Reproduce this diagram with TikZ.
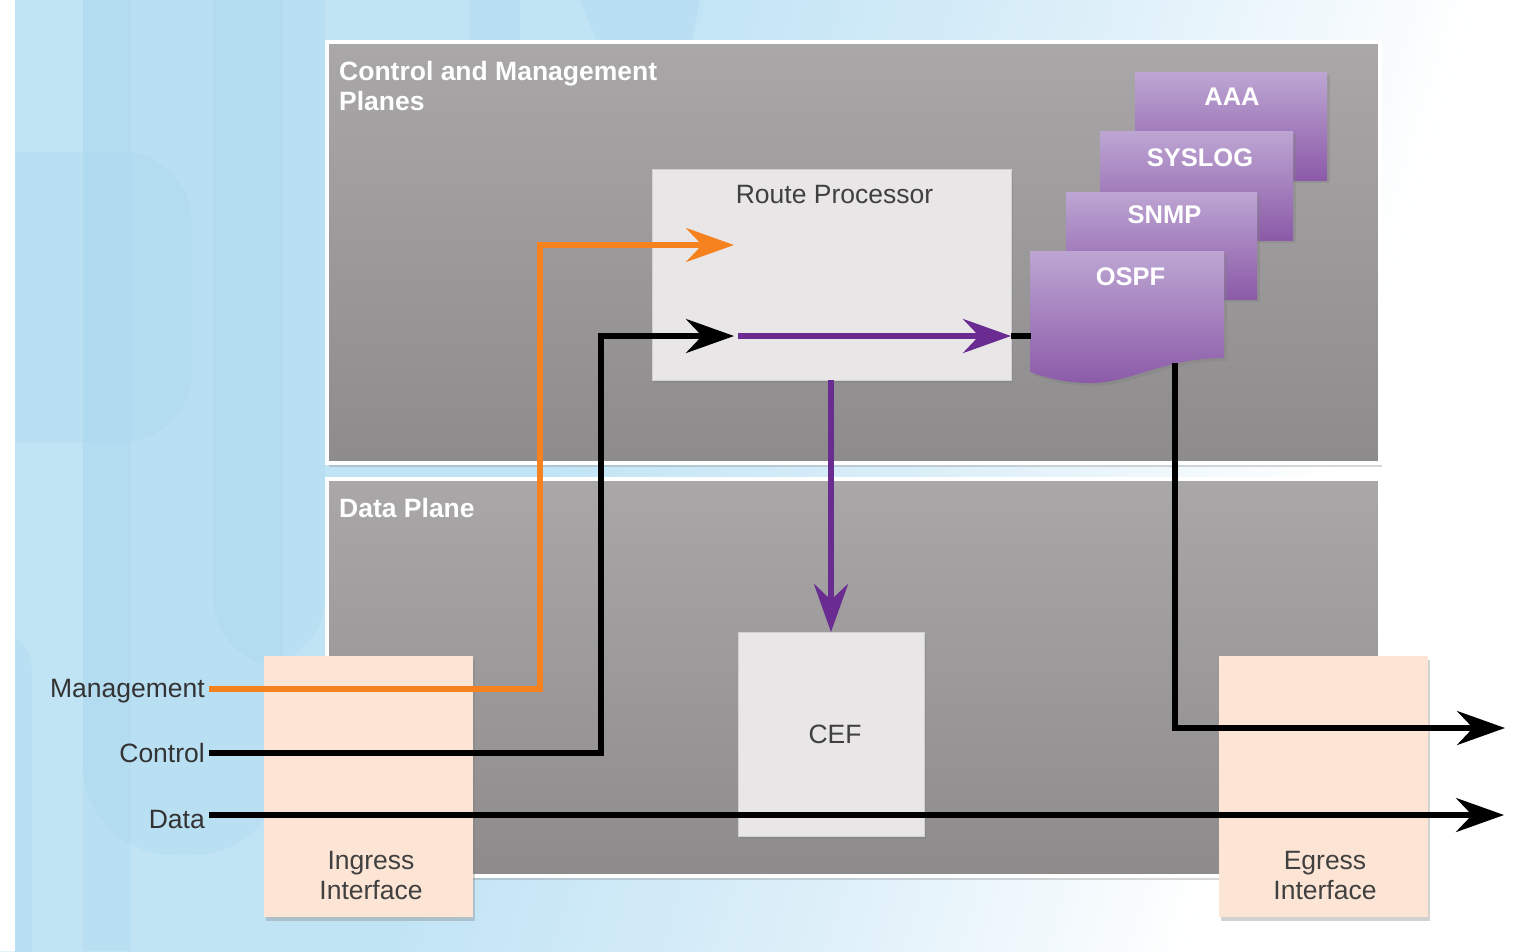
\documentclass[tikz,border=0pt]{standalone}
\usepackage{fontspec}
\setmainfont{Liberation Sans}
\usetikzlibrary{arrows.meta,shadows}

\definecolor{bgblue}{HTML}{C1E4F5}
\definecolor{bgdeep}{HTML}{A9D6EF}
\definecolor{bgpale}{HTML}{DCEFF9}
\definecolor{planetop}{HTML}{A9A7A8}
\definecolor{planebot}{HTML}{8D8B8C}
\definecolor{boxgray}{HTML}{E8E6E7}
\definecolor{peach}{HTML}{FDE5D5}
\definecolor{doctop}{HTML}{BDA6D3}
\definecolor{docbot}{HTML}{8B5AA8}
\definecolor{mgmtorange}{HTML}{F5821F}
\definecolor{flowpurple}{HTML}{6A2C91}
\definecolor{labelgray}{HTML}{404040}
\definecolor{sidegray}{HTML}{333333}

% backdrop fade: blue on the left, white towards the right
\pgfdeclarehorizontalshading{bgfade}{100bp}{color(0bp)=(bgblue); color(25bp)=(bgblue); color(42bp)=(bgblue); color(56bp)=(bgpale); color(70bp)=(white); color(100bp)=(white)}

\tikzset{
  plane/.style={draw=white, line width=4pt, top color=planetop, bottom color=planebot,
    inner sep=0pt, outer sep=0pt,
    drop shadow={shadow xshift=2pt, shadow yshift=-4pt, opacity=.3}},
  unit/.style={fill=boxgray, draw=black!18, line width=.6pt, inner sep=0pt, outer sep=0pt,
    drop shadow={shadow xshift=2pt, shadow yshift=-3pt, opacity=.35}},
  iface/.style={fill=peach, inner sep=0pt, outer sep=0pt,
    drop shadow={shadow xshift=2pt, shadow yshift=-4pt, opacity=.35}},
  doc/.style={top color=doctop, bottom color=docbot,
    drop shadow={shadow xshift=3pt, shadow yshift=-3pt, opacity=.35}},
  title/.style={text=white, inner sep=0pt, font=\bfseries\fontsize{26.5}{30}\selectfont},
  doclbl/.style={text=white, inner sep=0pt, font=\bfseries\fontsize{25.5}{30}\selectfont},
  lbl/.style={text=labelgray, inner sep=0pt, font=\fontsize{26.5}{30}\selectfont},
  side/.style={text=sidegray, inner sep=0pt, font=\fontsize{26.5}{30}\selectfont},
  flow/.style={line width=5.5pt, -{Stealth[length=48pt, width=34pt, inset=16pt]}},
  wire/.style={line width=5.5pt},
}

\begin{document}
\begin{tikzpicture}[x=1pt, y=-1pt]
\useasboundingbox (0,0) rectangle (1517,951);

% backdrop
\fill[white] (0,0) rectangle (1517,951);
\shade[shading=bgfade, shading angle=-17] (15,0) rectangle (1517,951);
\begin{scope}[opacity=.3]
  \fill[bgdeep] (83,0) rectangle (131,951);
  \fill[bgdeep, rounded corners=70pt] (-60,152) rectangle (192,442);
  \fill[bgdeep, rounded corners=90pt] (83,-200) rectangle (283,855);
  \fill[bgdeep, rounded corners=70pt] (213,-200) rectangle (325,667);
  \fill[bgdeep, rounded corners=40pt] (-60,630) rectangle (32,1100);
  \fill[bgdeep] (470,0) rectangle (520,100);
  \fill[bgdeep] (580,0) -- (700,0) -- (690,50) -- (600,50) -- cycle;
\end{scope}
\fill[white] (0,0) rectangle (15,951);

% planes
\node[plane, minimum width=1053pt, minimum height=421pt, anchor=north west] (cmp) at (327,42) {};
\node[plane, minimum width=1053pt, minimum height=397pt, anchor=north west] (dp) at (327,479) {};
\node[title, anchor=north west, align=left] (cmptitle) at (339,61) {Control and Management\\Planes};
\node[title, anchor=north west] (dptitle) at (339,498) {Data Plane};

% processing units
\node[unit, minimum width=359pt, minimum height=211pt, anchor=north west] (rp) at (652,169) {};
\node[lbl, anchor=base] (rptext) at (834.5,203) {Route Processor};
\node[unit, minimum width=186pt, minimum height=204pt, anchor=north west] (cef) at (738,632) {};
\node[lbl, anchor=base] (ceftext) at (835,743) {CEF};

% interfaces
\node[iface, minimum width=209pt, minimum height=261pt, anchor=north west] (ingress) at (264,656) {};
\node[lbl, align=center, anchor=north] (ingtext) at (371,851) {Ingress\\Interface};
\node[iface, minimum width=209pt, minimum height=261pt, anchor=north west] (egress) at (1219,656) {};
\node[lbl, align=center, anchor=north] (egrtext) at (1325,851) {Egress\\Interface};

% protocol stack
\shade[doc] (1135,72) rectangle (1327,180);
\node[doclbl, anchor=base] (aaa) at (1232,105) {AAA};
\shade[doc] (1100,131) rectangle (1293,240);
\node[doclbl, anchor=base] (syslog) at (1200,166) {SYSLOG};
\shade[doc] (1066,192) rectangle (1257,299);
\node[doclbl, anchor=base] (snmp) at (1164.5,223) {SNMP};
\shade[doc] (1030,251) -- (1224,251) -- (1224,358)
  .. controls (1160,358) and (1130,385) .. (1085,383)
  .. controls (1060,382) and (1045,377) .. (1030,372) -- cycle;
\node[doclbl, anchor=base] (ospf) at (1130.5,285) {OSPF};

% traffic inputs
\coordinate (mgmt-in) at (209,689);
\coordinate (ctl-in) at (209,753);
\coordinate (data-in) at (209,815);
\node[side, anchor=base east] (mgmtlbl) at (205,697) {Management};
\node[side, anchor=base east] (ctllbl) at (205,762) {Control};
\node[side, anchor=base east] (datalbl) at (205,828) {Data};

% connection points
\coordinate (rp-mgmt) at (734,245);
\coordinate (rp-ctl) at (734,336);
\coordinate (rp-fwd) at (738,336);
\coordinate (ospf-in) at (1031,336);
\coordinate (ospf-out) at (1175,363);
\coordinate (egress-ctl) at (1505,728);
\coordinate (egress-data) at (1504,815);

% flows
\draw[flow, mgmtorange] (mgmt-in) -| (540,245) -- (rp-mgmt);
\draw[flow, black] (ctl-in) -| (601,336) -- (rp-ctl);
\draw[flow, flowpurple] (rp-fwd) -- (rp.east |- rp-fwd);
\draw[wire, black] (rp.east |- rp-fwd) -- (ospf-in);
\draw[flow, flowpurple] (rp.south -| cef.north) -- (cef.north);
\draw[flow, black] (ospf-out) |- (egress-ctl);
\draw[flow, black] (data-in) -- (egress-data);
\end{tikzpicture}
\end{document}
